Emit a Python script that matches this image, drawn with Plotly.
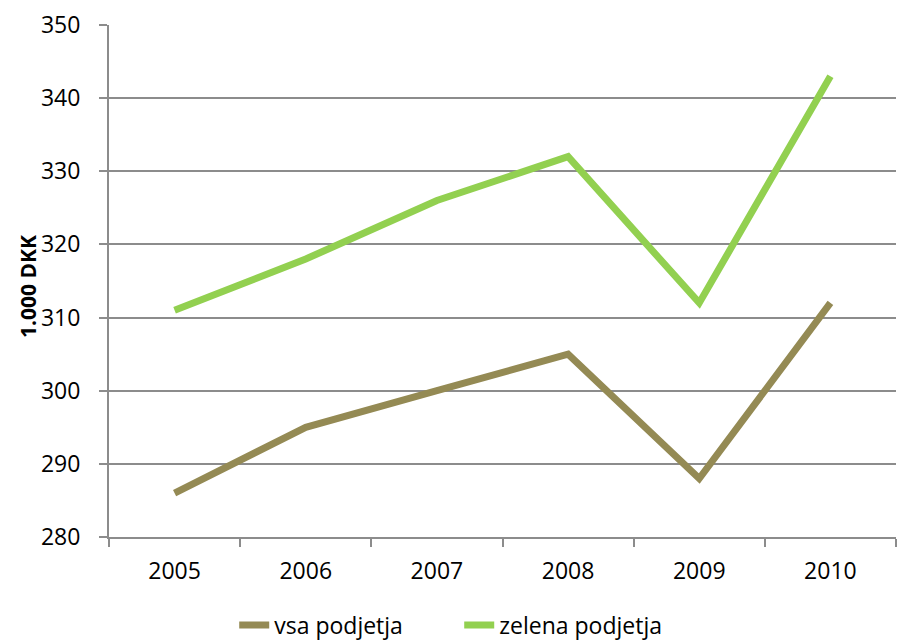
import plotly.graph_objects as go

# Annual values (in 1.000 DKK)
years = ["2005", "2006", "2007", "2008", "2009", "2010"]
vsa_podjetja = [286, 295, 300, 305, 288, 312]
zelena_podjetja = [311, 318, 326, 332, 312, 343]

series_names = ["vsa podjetja", "zelena podjetja"]
y_title = "1.000 DKK"
y_ticks = [280, 290, 300, 310, 320, 330, 340, 350]

FONT = "Open Sans"
GRID = "#8c8c8c"

fig = go.Figure()
fig.add_trace(go.Scatter(
    x=years, y=vsa_podjetja, name=series_names[0], mode="lines",
    line=dict(color="#948A54", width=7),
))
fig.add_trace(go.Scatter(
    x=years, y=zelena_podjetja, name=series_names[1], mode="lines",
    line=dict(color="#92D050", width=7),
))

fig.update_layout(
    width=897, height=640,
    margin=dict(l=109, r=1, t=25, b=103, autoexpand=False),
    paper_bgcolor="white", plot_bgcolor="white",
    font=dict(family=FONT, size=23, color="black"),
    showlegend=True,
    legend=dict(
        orientation="h", x=0.445, xanchor="center", y=-0.172, yanchor="middle",
        font=dict(family=FONT, size=23), entrywidth=180, entrywidthmode="pixels",
        tracegroupgap=0,
    ),
    xaxis=dict(
        type="category", range=[-0.5, 5.5], showgrid=False, showline=True,
        linecolor=GRID, linewidth=2, ticks="outside", tickson="boundaries",
        ticklen=8, tickcolor=GRID, tickwidth=2, ticklabelstandoff=12,
        zeroline=False, automargin=False,
    ),
    yaxis=dict(
        range=[280, 350], tickvals=y_ticks, showgrid=True, gridcolor=GRID, gridwidth=2,
        showline=True, linecolor=GRID, linewidth=2, ticks="outside", ticklen=8,
        tickcolor=GRID, tickwidth=2, ticklabelstandoff=14, zeroline=False,
        automargin=False,
    ),
    annotations=[dict(
        text="<b>" + y_title + "</b>", textangle=-90, xref="paper", yref="paper",
        x=-0.103, y=0.49, xanchor="center", yanchor="middle", showarrow=False,
        font=dict(family=FONT, size=21, color="black"),
    )],
)

fig.write_html("out.html")
